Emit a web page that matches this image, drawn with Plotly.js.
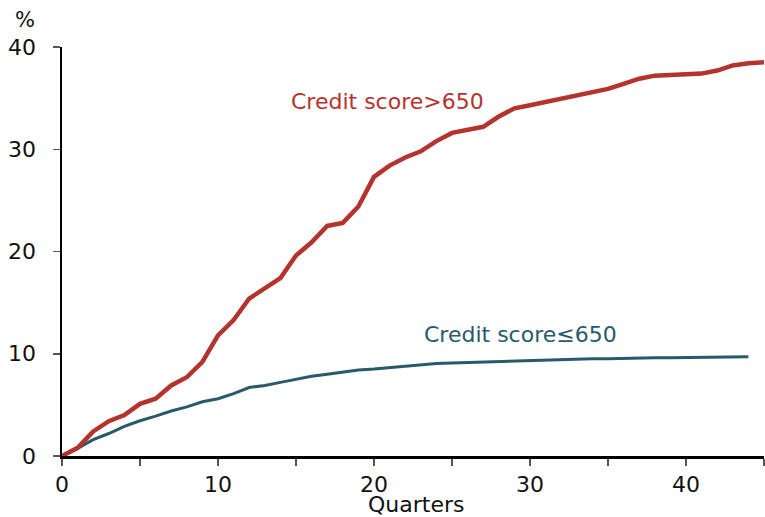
<!DOCTYPE html>
<html>
<head>
<meta charset="utf-8">
<script src="https://cdn.plot.ly/plotly-3.0.1.min.js"></script>
<style>html,body{margin:0;padding:0;background:#fff;}#chart{width:765px;height:517px;}</style>
</head>
<body>
<div id="chart"></div>
<script>
// Quarters since origination
const quarters = [0,1,2,3,4,5,6,7,8,9,10,11,12,13,14,15,16,17,18,19,20,21,22,23,24,25,26,27,28,29,30,31,32,33,34,35,36,37,38,39,40,41,42,43,44,45];
// Cumulative %, credit score > 650
const highScore = [0,0.8,2.4,3.4,4.0,5.1,5.6,6.9,7.7,9.2,11.8,13.3,15.4,16.4,17.4,19.6,20.9,22.5,22.8,24.4,27.3,28.4,29.2,29.8,30.8,31.6,31.9,32.2,33.2,34.0,34.3,34.6,34.9,35.3,35.6,35.9,36.4,36.9,37.2,37.3,37.3,37.4,37.7,38.2,38.4,38.5];
// Cumulative %, credit score <= 650 (ends at quarter 44)
const lowQuarters = quarters.slice(0,45);
const lowScore = [0,0.75,1.6,2.2,2.9,3.45,3.9,4.4,4.8,5.3,5.6,6.1,6.7,6.9,7.2,7.5,7.8,8.0,8.2,8.4,8.5,8.65,8.75,8.9,9.05,9.1,9.15,9.2,9.25,9.3,9.35,9.4,9.4,9.45,9.5,9.5,9.55,9.6,9.6,9.6,9.62,9.65,9.65,9.67,9.7];
const labels = {high: 'Credit score>650', low: 'Credit score≤650', x: 'Quarters', y: '%'};

const red = '#B5332D';
const teal = '#285A6C';
const font = 'DejaVu Sans, Verdana, sans-serif';

const traces = [
  {x: lowQuarters, y: lowScore, type: 'scatter', mode: 'lines', line: {color: teal, width: 3}, hoverinfo: 'skip'},
  {x: quarters, y: highScore, type: 'scatter', mode: 'lines', line: {color: red, width: 4.5}, hoverinfo: 'skip'}
];

const layout = {
  width: 765, height: 517,
  margin: {l: 62, r: 1, t: 47, b: 61},
  paper_bgcolor: '#fff', plot_bgcolor: '#fff',
  showlegend: false,
  font: {family: font, size: 22, color: '#111'},
  xaxis: {
    range: [0, 45], dtick: 10, tick0: 0,
    showgrid: false, zeroline: false,
    showline: true, linecolor: '#000', linewidth: 2.5,
    ticks: 'outside', ticklen: 7, tickcolor: '#555', tickwidth: 1.5,
    minor: {dtick: 5, ticks: 'outside', ticklen: 7, tickcolor: '#555', tickwidth: 1.5, showgrid: false},
    tickfont: {family: font, size: 22, color: '#111'},
    ticklabelstandoff: 0
  },
  yaxis: {
    range: [0, 40], dtick: 10,
    showgrid: false, zeroline: false,
    showline: true, linecolor: '#000', linewidth: 2.5,
    ticks: 'outside', ticklen: 7, tickcolor: '#555', tickwidth: 1.5,
    tickfont: {family: font, size: 22, color: '#111'},
    ticklabelstandoff: 12
  },
  annotations: [
    {text: labels.y, xref: 'paper', yref: 'paper', x: -0.0527, y: 1.0655, xanchor: 'center', yanchor: 'middle', showarrow: false, font: {family: font, size: 21, color: '#111'}},
    {text: labels.x, xref: 'paper', yref: 'paper', x: 0.504, y: -0.119, xanchor: 'center', yanchor: 'middle', showarrow: false, font: {family: font, size: 22, color: '#111'}},
    {text: labels.high, xref: 'x', yref: 'y', x: 20.85, y: 34.7, xanchor: 'center', yanchor: 'middle', showarrow: false, font: {family: font, size: 22, color: red}},
    {text: labels.low, xref: 'x', yref: 'y', x: 29.4, y: 11.9, xanchor: 'center', yanchor: 'middle', showarrow: false, font: {family: font, size: 22, color: teal}}
  ]
};

Plotly.newPlot('chart', traces, layout, {staticPlot: true, displayModeBar: false});
</script>
</body>
</html>
